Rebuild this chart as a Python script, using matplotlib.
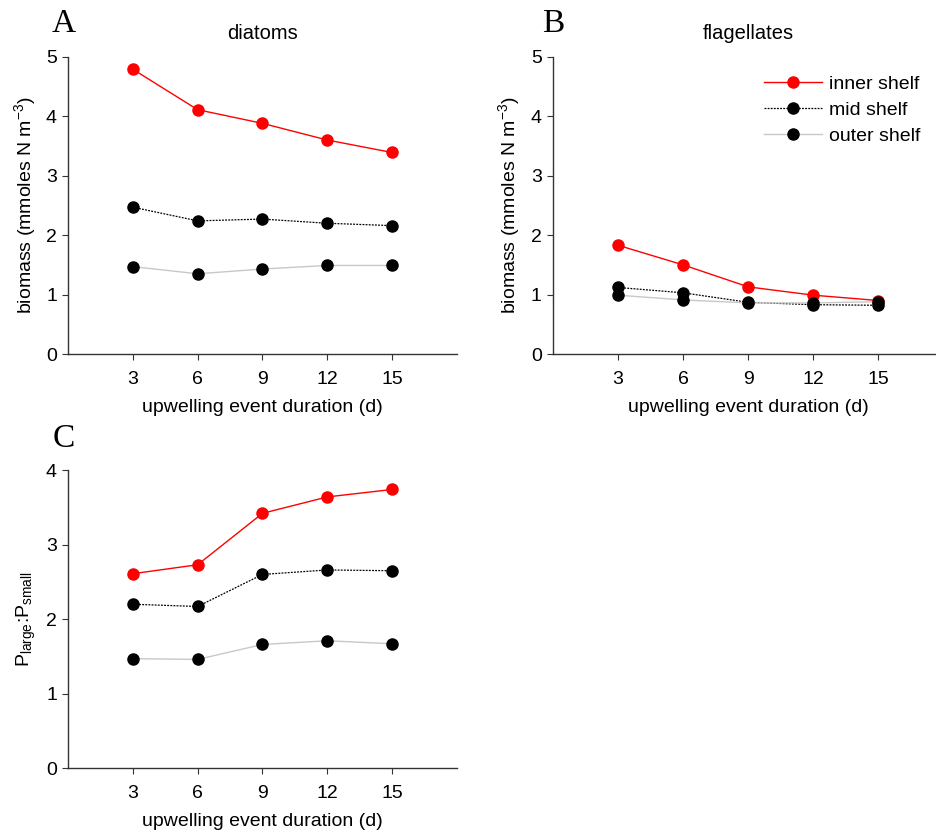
import matplotlib
matplotlib.use('Agg')
import matplotlib.pyplot as plt

plt.rcParams['font.family'] = ['Liberation Sans', 'DejaVu Sans']
plt.rcParams['mathtext.default'] = 'regular'

# 数据
duration = [3, 6, 9, 12, 15]
shelf_names = ['inner shelf', 'mid shelf', 'outer shelf']

diatoms_inner = [4.79, 4.11, 3.88, 3.60, 3.39]
diatoms_mid = [2.47, 2.24, 2.27, 2.20, 2.16]
diatoms_outer = [1.47, 1.35, 1.43, 1.49, 1.49]

flag_inner = [1.83, 1.50, 1.13, 0.99, 0.90]
flag_mid = [1.12, 1.03, 0.87, 0.83, 0.82]
flag_outer = [0.99, 0.91, 0.86, 0.86, 0.88]

ratio_inner = [2.61, 2.73, 3.42, 3.64, 3.74]
ratio_mid = [2.20, 2.17, 2.60, 2.66, 2.65]
ratio_outer = [1.47, 1.46, 1.66, 1.71, 1.67]

styles = [
    dict(color='#ff0000', linestyle='-', linewidth=1.0, markerfacecolor='#ff0000', markeredgecolor='#ff0000'),
    dict(color='black', linestyle=(0, (1.5, 1)), linewidth=0.9, markerfacecolor='black', markeredgecolor='black'),
    dict(color='#c8c8c8', linestyle='-', linewidth=1.0, markerfacecolor='black', markeredgecolor='black'),
]


def draw_panel(ax, series, ymax, ylabel):
    for vals, name, st in zip(series, shelf_names, styles):
        ax.plot(duration, vals, marker='o', markersize=8, label=name, **st)
    ax.set_xlim(0, 18)
    ax.set_ylim(0, ymax)
    ax.set_xticks(duration)
    ax.set_yticks(range(0, ymax + 1))
    ax.spines['top'].set_visible(False)
    ax.spines['right'].set_visible(False)
    for s in ['left', 'bottom']:
        ax.spines[s].set_color('#333333')
        ax.spines[s].set_linewidth(1.0)
    ax.tick_params(axis='both', direction='out', length=4, width=0.8, color='#333333', labelsize=14)
    ax.tick_params(axis='x', pad=8)
    ax.tick_params(axis='y', pad=4)
    ax.set_xlabel('upwelling event duration (d)', fontsize=14, labelpad=8)
    ax.set_ylabel(ylabel, fontsize=14, labelpad=6)


fig = plt.figure(figsize=(9.37, 8.35), dpi=100)

axA = fig.add_axes([0.0726, 0.576, 0.415, 0.356])
axB = fig.add_axes([0.590, 0.576, 0.417, 0.356])
axC = fig.add_axes([0.0726, 0.080, 0.415, 0.357])

bio_label = 'biomass (mmoles N m$^{-3}$)'
draw_panel(axA, [diatoms_inner, diatoms_mid, diatoms_outer], 5, bio_label)
draw_panel(axB, [flag_inner, flag_mid, flag_outer], 5, bio_label)
draw_panel(axC, [ratio_inner, ratio_mid, ratio_outer], 4, 'P$_{large}$:P$_{small}$')

axA.set_title('diatoms', fontsize=14.5, pad=13)
axB.set_title('flagellates', fontsize=14.5, pad=13)

axB.legend(loc='upper left', bbox_to_anchor=(0.52, 0.965), frameon=False, fontsize=14,
           handlelength=3.0, handletextpad=0.35, labelspacing=0.45, borderaxespad=0)

# 面板字母
fig.text(0.055, 0.971, 'A', fontsize=24, family='Liberation Serif', va='center')
fig.text(0.578, 0.971, 'B', fontsize=24, family='Liberation Serif', va='center')
fig.text(0.056, 0.474, 'C', fontsize=24, family='Liberation Serif', va='center')

fig.savefig('out.png', dpi=100)
